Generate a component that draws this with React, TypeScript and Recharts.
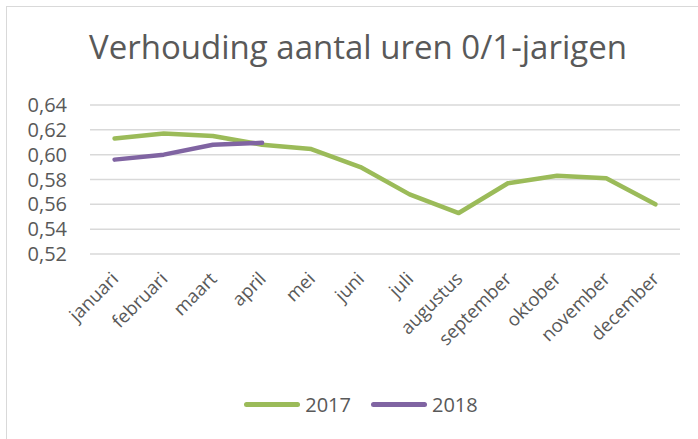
import React from "react";
import { LineChart, Line, XAxis, YAxis, CartesianGrid } from "recharts";

const months = ["januari","februari","maart","april","mei","juni","juli","augustus","september","oktober","november","december"];
const values2017 = [0.613,0.617,0.615,0.608,0.6045,0.590,0.568,0.553,0.577,0.583,0.581,0.560];
const values2018: (number | null)[] = [0.596,0.600,0.608,0.6095,null,null,null,null,null,null,null,null];
const yTicks = [0.52,0.54,0.56,0.58,0.60,0.62,0.64];
const seriesNames = ["2017","2018"];
const seriesColors = ["#9BBB59","#8064A2"];

const data = months.map((m, i) => ({ month: m, s2017: values2017[i], s2018: values2018[i] }));

const FONT = "'Open Sans', 'Noto Sans', sans-serif";
const GRAY = "#595959";

const XTick = (props: any) => {
  const { x, y, payload } = props;
  const ax = x + 5;
  const ay = y + 18;
  return (
    <text x={ax} y={ay} transform={`rotate(-45 ${ax} ${ay})`} textAnchor="end" fill={GRAY} fontSize={18.5} fontFamily={FONT}>
      {payload.value}
    </text>
  );
};

export default function App() {
  return (
    <div style={{ position: "absolute", left: 0, top: 0, width: 698, height: 439, background: "#fff", overflow: "hidden" }}>
      <div style={{ position: "absolute", left: 6, top: 6, width: 720, height: 460, borderTop: "1.5px solid #d9d9d9", borderLeft: "1.5px solid #d9d9d9" }} />
      <div style={{ position: "absolute", left: 0, top: 24, width: 716, textAlign: "center", fontFamily: FONT, fontSize: 33, color: GRAY }}>
        Verhouding aantal uren 0/1-jarigen
      </div>
      <div style={{ position: "absolute", left: 0, top: 0 }}>
        <LineChart width={698} height={439} data={data} margin={{ top: 105, right: 18, bottom: 85, left: 0 }}>
          <CartesianGrid vertical={false} stroke="#d9d9d9" strokeWidth={1.5} />
          <XAxis dataKey="month" axisLine={false} tickLine={false} interval={0} height={100} tick={<XTick />} padding={{ left: 24.6, right: 24.6 }} />
          <YAxis domain={[0.52, 0.64]} ticks={yTicks} interval={0} axisLine={false} tickLine={false} width={90} tickMargin={17}
            tick={{ fill: GRAY, fontSize: 20, fontFamily: FONT }} tickFormatter={(v: number) => v.toFixed(2).replace(".", ",")} />
          <Line dataKey="s2017" name={seriesNames[0]} stroke={seriesColors[0]} strokeWidth={4.5} dot={false} isAnimationActive={false} strokeLinecap="round" strokeLinejoin="round" />
          <Line dataKey="s2018" name={seriesNames[1]} stroke={seriesColors[1]} strokeWidth={4.5} dot={false} isAnimationActive={false} strokeLinecap="round" strokeLinejoin="round" connectNulls={false} />
        </LineChart>
      </div>
      <div style={{ position: "absolute", left: 0, top: 391, width: 722, display: "flex", justifyContent: "center", fontFamily: FONT, fontSize: 20, color: GRAY }}>
        {seriesNames.map((n, i) => (
          <div key={n} style={{ display: "flex", alignItems: "center", marginRight: i === 0 ? 20 : 0 }}>
            <div style={{ width: 56, height: 5, borderRadius: 3, background: seriesColors[i], marginRight: 5 }} />
            <span>{n}</span>
          </div>
        ))}
      </div>
    </div>
  );
}
